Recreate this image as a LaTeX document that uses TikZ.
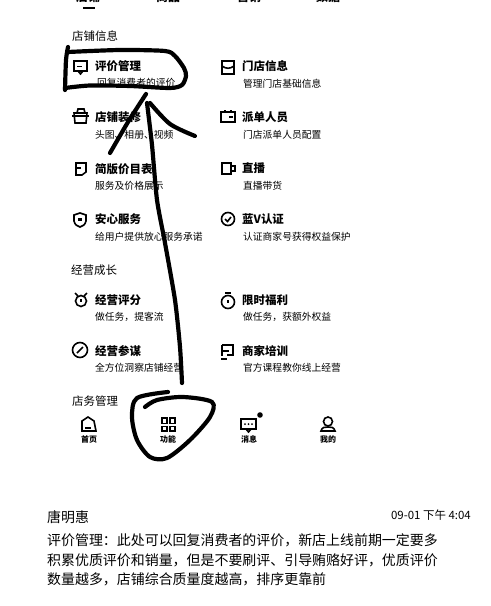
\documentclass[tikz,border=0pt]{standalone}
\usepackage{fontspec}
\setmainfont{Noto Sans CJK SC}
\usetikzlibrary{shapes.geometric}
\newcommand{\fsz}[1]{\fontsize{#1}{#1}\selectfont}
\newcommand{\qcomma}{^^^^ff0c}
\newcommand{\qcolon}{^^^^ff1a}
\tikzset{
 title/.style={anchor=west,inner sep=0pt,font=\fsz{11.5}\bfseries},
 subt/.style={anchor=west,inner sep=0pt,font=\fsz{9.8}},
 head/.style={anchor=west,inner sep=0pt,font=\fsz{11.5}},
 navt/.style={anchor=center,inner sep=0pt,font=\fsz{8}\bfseries},
 tabt/.style={anchor=center,inner sep=0pt,font=\fsz{12}\bfseries},
 body/.style={anchor=west,inner sep=0pt,font=\fsz{14}},
 ico/.style={line width=1.6pt,black},
 pen/.style={line width=4.2pt,black,line cap=round,line join=round},
}
\begin{document}
\begin{tikzpicture}[x=1bp,y=-1bp]
\useasboundingbox (0,0) rectangle (491,606);
\fill[white] (0,0) rectangle (491,606);
\begin{scope}
\clip (0,0) rectangle (491,606);
\node[tabt] (t1) at (88,-3) {店铺};
\node[tabt] (t2) at (168,-3) {商品};
\node[tabt] (t3) at (249,-3) {营销};
\node[tabt] (t4) at (328,-3) {数据};
\end{scope}
\fill[black] (83,7.5) rectangle (95,9);

\node[head] (h1) at (72,36) {店铺信息};
\node[head] (h2) at (71,270) {经营成长};
\node[head] (h3) at (72,401) {店务管理};

% left column
\node[title] (a1) at (95,66) {评价管理};
\node[subt] (a1s) at (97,83) {回复消费者的评价};
\node[title] (a2) at (95,117) {店铺装修};
\node[subt] (a2s) at (95,135) {头图、相册、视频};
\node[title] (a3) at (95,169) {简版价目表};
\node[subt] (a3s) at (95,186) {服务及价格展示};
\node[title] (a4) at (95,219) {安心服务};
\node[subt] (a4s) at (95,237) {给用户提供放心服务承诺};
\node[title] (a5) at (95,300) {经营评分};
\node[subt] (a5s) at (95,317) {做任务\qcomma 提客流};
\node[title] (a6) at (95,351) {经营参谋};
\node[subt] (a6s) at (95,368) {全方位洞察店铺经营};
% right column
\node[title] (b1) at (242,66) {门店信息};
\node[subt] (b1s) at (243,84) {管理门店基础信息};
\node[title] (b2) at (242,117) {派单人员};
\node[subt] (b2s) at (243,135) {门店派单人员配置};
\node[title] (b3) at (242,168) {直播};
\node[subt] (b3s) at (243,186) {直播带货};
\node[title] (b4) at (242,219) {蓝V认证};
\node[subt] (b4s) at (243,237) {认证商家号获得权益保护};
\node[title] (b5) at (242,300) {限时福利};
\node[subt] (b5s) at (243,317) {做任务\qcomma 获额外权益};
\node[title] (b6) at (242,351) {商家培训};
\node[subt] (b6s) at (243,368) {官方课程教你线上经营};

% icons, left
\draw[ico] (74,61) rectangle (87,71); \draw[ico] (78,71) -- (80.5,74) -- (83,71); \fill (77,66) rectangle (82,67);
\draw[ico] (74,113) -- (87,113) -- (86,123) -- (75,123) -- cycle; \draw[ico] (77,113) -- (78,109) -- (84,109) -- (85,113); \draw[ico] (72,116) -- (89,116);
\draw[ico] (76,163) -- (86,163) -- (86,172) -- (82,175) -- (76,175) -- cycle; \draw[ico] (76,168) -- (81,168);
\draw[ico] (74,215) -- (80,213) -- (86,215) -- (86,221) .. controls (85,225) and (83,226) .. (80,227) .. controls (77,226) and (75,225) .. (74,221) -- cycle; \fill (78,218) rectangle (82,221);
\draw[ico] (81,301) circle (5.5); \draw[ico] (75,293) -- (78,296); \draw[ico] (87,293) -- (84,296); \draw[ico] (81,299) -- (81,302);
\draw[ico] (80,350) circle (7.5); \draw[ico] (77,353) -- (83,347);
% icons, right
\draw[ico] (222,61) rectangle (234,74); \draw[ico] (222,66) .. controls (226,69) and (230,69) .. (234,66);
\draw[ico] (221,112) rectangle (235,122); \draw[ico] (225,112) -- (225,110); \draw[ico] (231,112) -- (231,110); \fill (229,116) rectangle (233,118);
\draw[ico] (222,163) rectangle (231,174); \draw[ico] (231,166) -- (235,166) -- (235,171) -- (231,171);
\draw[ico] (228,219) circle (6.5); \draw[ico] (225,219) -- (227.5,221.5) -- (231,217);
\draw[ico] (228,302) circle (6.5); \draw[ico] (225,293) -- (231,293); \draw[ico] (228,300) -- (228,303);
\draw[ico] (222,345) -- (233,345) -- (233,355) -- (227,355); \draw[ico] (222,345) -- (222,356); \draw[ico] (222,351) -- (229,351); \draw[ico] (221,359) -- (227,359);

% bottom navigation
\draw[ico] (82,421) -- (88,417) -- (94,421) -- (96,431) -- (82,431) -- cycle; \fill (85,427) rectangle (91,428.5);
\node[navt] (n1) at (89,439) {首页};
\draw[ico] (162,418) rectangle (167,423.5); \draw[ico] (170,418) rectangle (175,423.5);
\draw[ico] (162,426.5) rectangle (167,431); \draw[ico] (170,426.5) rectangle (175,431);
\node[navt] (n2) at (168,439) {功能};
\draw[ico] (241,419) rectangle (256,429); \draw[ico] (246,429) -- (248.5,432) -- (251,429);
\fill (245,424) circle (1) (248.5,424) circle (1) (252,424) circle (1);
\fill (260,415) circle (2.8);
\node[navt] (n3) at (249,439) {消息};
\draw[ico] (328,421.5) circle (4.5); \draw[ico] (321,431) .. controls (322,427) and (325,427) .. (328,427) .. controls (331,427) and (334,427) .. (335,431) -- cycle;
\node[navt] (n4) at (328,439) {我的};

% hand-drawn marks
\draw[pen] plot[smooth,tension=0.45] coordinates {(68,47) (66,60) (65,90)};
\draw[pen] plot[smooth,tension=0.45] coordinates {(65,88) (90,85.5) (130,86) (170,88) (182,85) (186,76) (184,68) (175,56) (165,51) (120,50) (68,52)};
\draw[pen] plot[smooth,tension=0.3] coordinates {(110,153) (128,122) (146,94)};
\draw[pen] plot[smooth,tension=0.5] coordinates {(150,103) (170,124) (195,136)};
\draw[pen] plot[smooth,tension=0.4] coordinates {(147,103) (152,145) (157,200) (165,243) (175,300) (180,347) (182,383)};
\draw[pen] plot[smooth,tension=0.5] coordinates {(145,407) (157,400) (183,397) (212,402) (210,417) (190,440) (167,458) (150,457) (137,440) (132,417) (137,398) (168,392)};

% comment
\node[body] (c0) at (47,517) {唐明惠};
\node[anchor=east,inner sep=0pt,font=\fsz{11.5}] (c1) at (471,515) {09-01 下午 4:04};
\node[body] (c2) at (47,540) {评价管理\qcolon 此处可以回复消费者的评价\qcomma 新店上线前期一定要多};
\node[body] (c3) at (47,560) {积累优质评价和销量\qcomma 但是不要刷评、引导贿赂好评\qcomma 优质评价};
\node[body] (c4) at (47,579) {数量越多\qcomma 店铺综合质量度越高\qcomma 排序更靠前};
\end{tikzpicture}
\end{document}
